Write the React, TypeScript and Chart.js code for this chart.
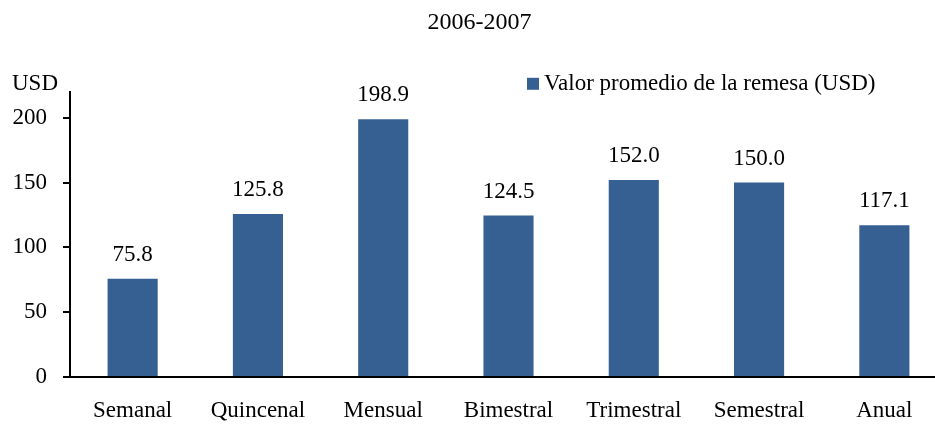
import React, { useEffect, useRef } from "react";
import { Chart, registerables } from "chart.js";

Chart.register(...registerables);

const categories = ["Semanal", "Quincenal", "Mensual", "Bimestral", "Trimestral", "Semestral", "Anual"];
const values = [75.8, 125.8, 198.9, 124.5, 152.0, 150.0, 117.1];
const yTicks = [0, 50, 100, 150, 200];
const seriesLabel = "Valor promedio de la remesa (USD)";
const titleText = "2006-2007";
const unitLabel = "USD";

const FONT = "'Liberation Serif', 'Times New Roman', serif";
const BAR = "#376092";

const extrasPlugin = {
  id: "extras",
  afterDatasetsDraw(chart: any) {
    const { ctx, chartArea } = chart;
    ctx.save();
    ctx.fillStyle = "#000";
    ctx.font = `23px ${FONT}`;
    const meta = chart.getDatasetMeta(0);
    meta.data.forEach((bar: any, i: number) => {
      ctx.textAlign = "center";
      ctx.textBaseline = "middle";
      ctx.fillText(values[i].toFixed(1), bar.x, bar.y - 24);
    });
    ctx.textAlign = "left";
    ctx.textBaseline = "middle";
    ctx.fillText(unitLabel, chartArea.left - 58, chartArea.top - 8);
    const lx = chartArea.left + 457;
    const ly = chartArea.top - 8;
    ctx.fillStyle = BAR;
    ctx.fillRect(lx, ly - 6, 12, 12);
    ctx.fillStyle = "#000";
    ctx.fillText(seriesLabel, lx + 17, ly);
    ctx.restore();
  },
};

export default function App() {
  const ref = useRef<HTMLCanvasElement>(null);
  useEffect(() => {
    if (!ref.current) return;
    const chart = new Chart(ref.current, {
      type: "bar",
      data: {
        labels: categories,
        datasets: [
          {
            label: seriesLabel,
            data: values,
            backgroundColor: BAR,
            borderWidth: 0,
            categoryPercentage: 1,
            barPercentage: 0.4,
          },
        ],
      },
      options: {
        animation: false,
        responsive: false,
        devicePixelRatio: 1,
        layout: { padding: { left: 12, right: 9, top: 0, bottom: 0 } },
        plugins: {
          legend: { display: false },
          tooltip: { enabled: false },
          title: {
            display: true,
            text: titleText,
            color: "#000",
            font: { family: FONT, size: 24, weight: "normal" },
            padding: { top: 8, bottom: 55 },
          },
        },
        scales: {
          x: {
            afterFit: (scale: any) => {
              scale.height = 47;
              scale.paddingLeft = 0;
              scale.paddingRight = 0;
            },
            grid: { display: true, drawOnChartArea: false, drawTicks: false },
            border: { display: true, color: "#000", width: 2 },
            ticks: { color: "#000", padding: 20, font: { family: FONT, size: 23 } },
          },
          y: {
            min: 0,
            max: 220,
            afterBuildTicks: (scale: any) => {
              scale.ticks = yTicks.map((v) => ({ value: v }));
            },
            afterFit: (scale: any) => {
              scale.width = 58;
              scale.paddingTop = 0;
              scale.paddingBottom = 0;
            },
            grid: {
              display: true,
              drawOnChartArea: false,
              drawTicks: true,
              tickLength: 7,
              color: "#000",
              lineWidth: 2,
            },
            border: { display: true, color: "#000", width: 2 },
            ticks: { color: "#000", padding: 16, font: { family: FONT, size: 23 } },
          },
        },
      },
      plugins: [extrasPlugin],
    });
    return () => chart.destroy();
  }, []);
  return (
    <div style={{ position: "fixed", left: 0, top: 0, width: 935, height: 424, overflow: "hidden", background: "#fff" }}>
      <canvas ref={ref} width={956} height={424} style={{ display: "block", width: 956, height: 424 }} />
    </div>
  );
}
